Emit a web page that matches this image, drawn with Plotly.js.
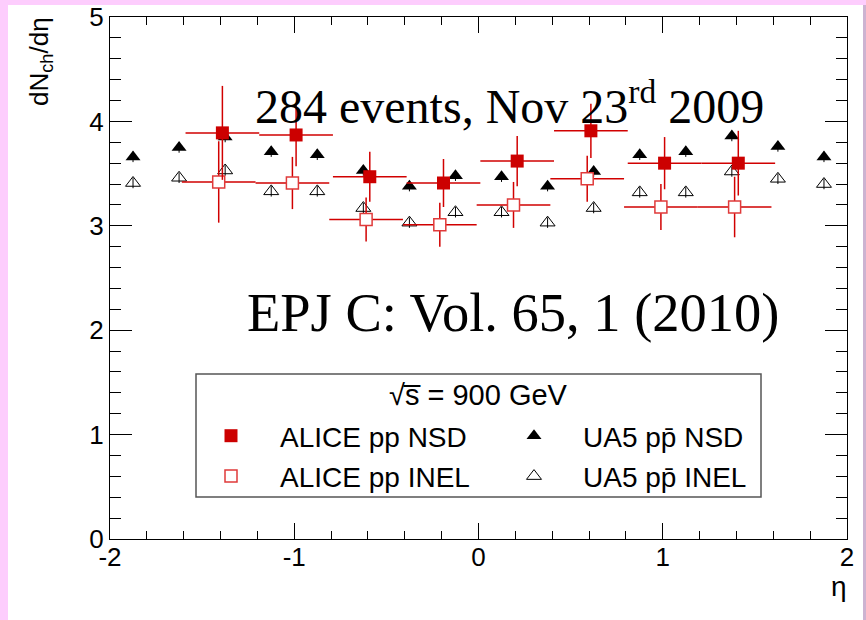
<!DOCTYPE html>
<html>
<head>
<meta charset="utf-8">
<script src="https://cdn.plot.ly/plotly-3.0.1.min.js"></script>
<style>
  html, body { margin: 0; padding: 0; width: 866px; height: 620px; overflow: hidden; background: #fdcdfd; }
  #frame { position: absolute; left: 8px; top: 5px; width: 855px; height: 615px; background: #ffffff; }
  #edge { position: absolute; left: 863px; top: 5px; width: 3px; height: 615px; background: #cdb3d1; }
  #chart { width: 855px; height: 615px; }
</style>
</head>
<body>
<div id="frame"><div id="chart"></div></div>
<div id="edge"></div>
<script>
// ALICE pp at sqrt(s) = 900 GeV, bins of width 0.4 in eta
const aliceEta = [-1.4, -1.0, -0.6, -0.2, 0.2, 0.6, 1.0, 1.4];
const aliceHalfWidth = [0.2, 0.2, 0.2, 0.2, 0.2, 0.2, 0.2, 0.2];
const aliceNSD = [3.89, 3.87, 3.47, 3.41, 3.62, 3.91, 3.60, 3.60];
const aliceNSDErr = [0.45, 0.30, 0.24, 0.23, 0.24, 0.26, 0.25, 0.31];
const aliceINEL = [3.42, 3.41, 3.06, 3.01, 3.20, 3.45, 3.18, 3.18];
const aliceINELErr = [0.39, 0.25, 0.21, 0.21, 0.22, 0.22, 0.22, 0.29];

// UA5 p-pbar at sqrt(s) = 900 GeV, bins of width 0.25 in eta
const ua5Eta = [-1.875, -1.625, -1.375, -1.125, -0.875, -0.625, -0.375, -0.125,
                0.125, 0.375, 0.625, 0.875, 1.125, 1.375, 1.625, 1.875];
const ua5NSD = [3.66, 3.75, 3.85, 3.71, 3.68, 3.53, 3.38, 3.48,
                3.47, 3.38, 3.52, 3.68, 3.71, 3.86, 3.76, 3.66];
const ua5INEL = [3.41, 3.46, 3.53, 3.33, 3.33, 3.17, 3.03, 3.13,
                 3.13, 3.03, 3.17, 3.32, 3.32, 3.52, 3.45, 3.40];
const ua5NSDErr = [0.05, 0.05, 0.05, 0.05, 0.05, 0.05, 0.05, 0.05,
                   0.05, 0.05, 0.05, 0.05, 0.05, 0.05, 0.05, 0.05];
const ua5INELErr = [0.05, 0.05, 0.05, 0.05, 0.05, 0.05, 0.05, 0.05,
                    0.05, 0.05, 0.05, 0.05, 0.05, 0.05, 0.05, 0.05];

// axis tick labels
const xTickVals = [-2, -1, 0, 1, 2];
const xTickText = ['-2', '-1', '0', '1', '2'];
const yTickVals = [0, 1, 2, 3, 4, 5];
const yTickText = ['0', '1', '2', '3', '4', '5'];

// NSD and INEL points are drawn slightly apart so both stay visible
const pairShift = 0.01;
const RED = '#d10000';
const SANS = 'Liberation Sans, Arial, sans-serif';
const SERIF = 'Liberation Serif, Times New Roman, serif';

const traces = [
  {
    name: 'UA5 pp\u0304 NSD', legend: 'legend2', legendgroup: 'u1', legendrank: 1,
    x: ua5Eta, y: ua5NSD, type: 'scatter', mode: 'markers',
    error_y: { type: 'data', array: ua5NSDErr, color: '#000', thickness: 1, width: 0 },
    marker: { symbol: 'triangle-up', size: 13, color: '#000' }
  },
  {
    name: 'UA5 pp\u0304 INEL', legend: 'legend2', legendgroup: 'u2', legendrank: 2,
    x: ua5Eta, y: ua5INEL, type: 'scatter', mode: 'markers',
    error_y: { type: 'data', array: ua5INELErr, color: '#000', thickness: 1, width: 0 },
    marker: { symbol: 'triangle-up-open', size: 13, color: '#000', line: { width: 1, color: '#000' } }
  },
  {
    name: 'ALICE pp INEL', legend: 'legend', legendgroup: 'a2', legendrank: 2,
    x: aliceEta.map(e => e - pairShift), y: aliceINEL, type: 'scatter', mode: 'markers',
    error_x: { type: 'data', array: aliceHalfWidth, color: RED, thickness: 1.5, width: 0 },
    error_y: { type: 'data', array: aliceINELErr, color: RED, thickness: 1.5, width: 0 },
    marker: { symbol: 'square', size: 12, color: '#ffffff', line: { width: 1.5, color: '#e03a3a' } }
  },
  {
    name: 'ALICE pp NSD', legend: 'legend', legendgroup: 'a1', legendrank: 1,
    x: aliceEta.map(e => e + pairShift), y: aliceNSD, type: 'scatter', mode: 'markers',
    error_x: { type: 'data', array: aliceHalfWidth, color: RED, thickness: 1.5, width: 0 },
    error_y: { type: 'data', array: aliceNSDErr, color: RED, thickness: 1.5, width: 0 },
    marker: { symbol: 'square', size: 13, color: '#cc0000', line: { width: 0 } }
  }
];

// plot area in page pixels: x 110..847, y 17..539
const px = v => (v - 110) / 737;
const py = v => (539 - v) / 522;

const legendStyle = {
  font: { family: SANS, size: 28, color: '#000' },
  bgcolor: 'rgba(0,0,0,0)', borderwidth: 0,
  itemwidth: 88, tracegroupgap: 1,
  xanchor: 'left', yanchor: 'top', orientation: 'v'
};

const layout = {
  width: 855, height: 615,
  margin: { l: 102, r: 16, t: 12, b: 81, pad: 0 },
  paper_bgcolor: '#ffffff', plot_bgcolor: '#ffffff',
  font: { family: SANS, color: '#000' },
  showlegend: true,
  legend: Object.assign({}, legendStyle, { x: px(182), y: py(411) }),
  legend2: Object.assign({}, legendStyle, { x: px(485), y: py(411) }),
  xaxis: {
    range: [-2, 2], showgrid: false, zeroline: false,
    showline: true, linecolor: '#000', linewidth: 1, mirror: 'allticks',
    ticks: 'inside', ticklen: 16, tickwidth: 1, tickcolor: '#000',
    tickmode: 'array', tickvals: xTickVals, ticktext: xTickText,
    tickfont: { family: SANS, size: 26, color: '#000' },
    ticklabeloverflow: 'allow', ticklabelstandoff: -5,
    minor: { ticks: 'inside', ticklen: 8, tickwidth: 1, tickcolor: '#000', tickmode: 'linear', tick0: -2, dtick: 0.2, showgrid: false },
    fixedrange: true
  },
  yaxis: {
    range: [0, 5], showgrid: false, zeroline: false,
    showline: true, linecolor: '#000', linewidth: 1, mirror: 'allticks',
    ticks: 'inside', ticklen: 22, tickwidth: 1, tickcolor: '#000',
    tickmode: 'array', tickvals: yTickVals, ticktext: yTickText,
    tickfont: { family: SANS, size: 26, color: '#000' },
    ticklabeloverflow: 'allow',
    minor: { ticks: 'inside', ticklen: 11, tickwidth: 1, tickcolor: '#000', tickmode: 'linear', tick0: 0, dtick: 0.2, showgrid: false },
    fixedrange: true
  },
  shapes: [
    { type: 'rect', xref: 'paper', yref: 'paper', x0: px(196), x1: px(761), y0: py(497), y1: py(374),
      line: { color: '#555', width: 1.5 }, fillcolor: 'rgba(0,0,0,0)', layer: 'below' }
  ],
  annotations: [
    { text: 'dN<sub>ch</sub>/d\u03b7', xref: 'paper', yref: 'paper', x: px(41), y: py(62),
      xanchor: 'center', yanchor: 'middle', textangle: -90, showarrow: false,
      font: { family: SANS, size: 26, color: '#000' } },
    { text: '\u03b7', xref: 'paper', yref: 'paper', x: px(839), y: py(587),
      xanchor: 'center', yanchor: 'middle', showarrow: false,
      font: { family: SANS, size: 28, color: '#000' } },
    { text: '284 events, Nov 23<sup>rd</sup> 2009', xref: 'paper', yref: 'paper', x: px(253), y: py(135),
      xanchor: 'left', yanchor: 'bottom', showarrow: false,
      font: { family: SERIF, size: 48, color: '#000' } },
    { text: 'EPJ C: Vol. 65, 1 (2010)', xref: 'paper', yref: 'paper', x: px(245), y: py(345),
      xanchor: 'left', yanchor: 'bottom', showarrow: false,
      font: { family: SERIF, size: 54.5, color: '#000' } },
    { text: '\u221as\u0305 = 900 GeV', xref: 'paper', yref: 'paper', x: px(478.5), y: py(395),
      xanchor: 'center', yanchor: 'middle', showarrow: false,
      font: { family: SANS, size: 29, color: '#000' } }
  ]
};

Plotly.newPlot('chart', traces, layout, { staticPlot: true, displayModeBar: false });
</script>
</body>
</html>
